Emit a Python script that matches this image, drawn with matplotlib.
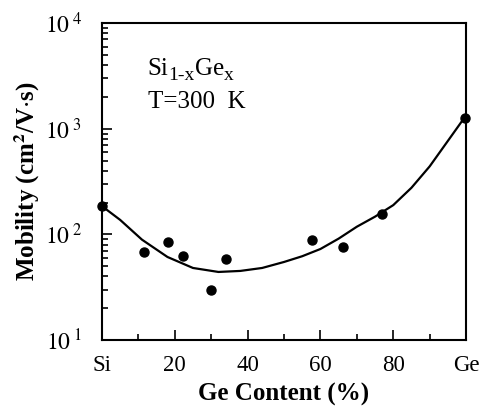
import numpy as np
import matplotlib
matplotlib.use('Agg')
import matplotlib.pyplot as plt
from matplotlib.ticker import LogLocator, NullFormatter
from matplotlib.transforms import offset_copy

plt.rcParams['font.family'] = ['Liberation Serif', 'DejaVu Serif']
plt.rcParams['mathtext.fontset'] = 'stix'

# measured points (Ge content %, mobility cm^2/V.s)
ge_pts = [0, 11.5, 18.2, 22.3, 29.9, 34.1, 57.6, 66.3, 77.0, 99.6]
mu_pts = [187, 68.6, 85, 62.5, 29.8, 58, 88.5, 76.5, 155, 1260]

# fitted curve
ge_fit = [0, 5, 11, 18, 25, 32, 38, 44, 50, 55, 60, 65, 70, 75, 80, 85, 90, 95, 99.6]
mu_fit = [185, 137, 89, 61, 48, 44, 45, 48, 54.7, 62, 72.6, 91, 118, 147, 189, 276, 440, 767, 1280]

xtick_pos = [0, 20, 40, 60, 80, 100]
xtick_lab = ['Si', '20', '40', '60', '80', 'Ge']
ytick_pos = [10, 100, 1000, 10000]
ytick_lab = [r'$\mathrm{10}^{\ 1}$', r'$\mathrm{10}^{\ 2}$', r'$\mathrm{10}^{\ 3}$', r'$\mathrm{10}^{\ 4}$']

fig = plt.figure(figsize=(4.83, 4.13), dpi=100)
ax = fig.add_axes([0.211, 0.177, 0.754, 0.767])

ax.plot(ge_fit, mu_fit, color='black', lw=1.6)
ax.plot(ge_pts, mu_pts, 'o', color='black', ms=6.5, clip_on=False, zorder=3)

ax.set_yscale('log')
ax.set_xlim(0, 100)
ax.set_ylim(10, 10000)

ax.set_xticks(xtick_pos)
ax.set_xticklabels(xtick_lab, fontsize=16.5)
ax.set_xticks([10, 30, 50, 70, 90], minor=True)
ax.set_yticks(ytick_pos)
ax.set_yticklabels(ytick_lab, fontsize=17)
ax.yaxis.set_minor_locator(LogLocator(base=10, subs=np.arange(2, 10)))
ax.yaxis.set_minor_formatter(NullFormatter())

ax.tick_params(which='both', direction='in', top=False, right=False, width=1.2)
ax.tick_params(which='major', length=7)
ax.tick_params(which='minor', length=4)
ax.tick_params(axis='x', which='major', pad=11)
ax.tick_params(axis='y', which='major', pad=14)

for s in ax.spines.values():
    s.set_linewidth(1.5)

ax.set_xlabel('Ge Content (%)', fontsize=18, fontweight='bold', labelpad=5)
ax.set_ylabel(r'Mobility (cm$^{\mathbf{2}}$/V$\cdot$s)', fontsize=18, fontweight='bold', labelpad=2)

# Si(1-x)Ge(x) built piece by piece so the subscripts stay large
pieces = [('Si', 18, 0), ('1-x', 14, -5), ('Ge', 18, 0), ('x', 14, -5)]
fig.canvas.draw()
renderer = fig.canvas.get_renderer()
dx = 0
for txt, size, dy in pieces:
    tr = offset_copy(ax.transAxes, fig=fig, x=dx, y=dy, units='dots')
    t = ax.text(0.126, 0.835, txt, transform=tr, fontsize=size, va='baseline', ha='left')
    dx += t.get_window_extent(renderer).width

ax.text(0.126, 0.75, 'T=300  K', transform=ax.transAxes,
        fontsize=18, va='center', ha='left')

fig.savefig('out.png', dpi=100)
